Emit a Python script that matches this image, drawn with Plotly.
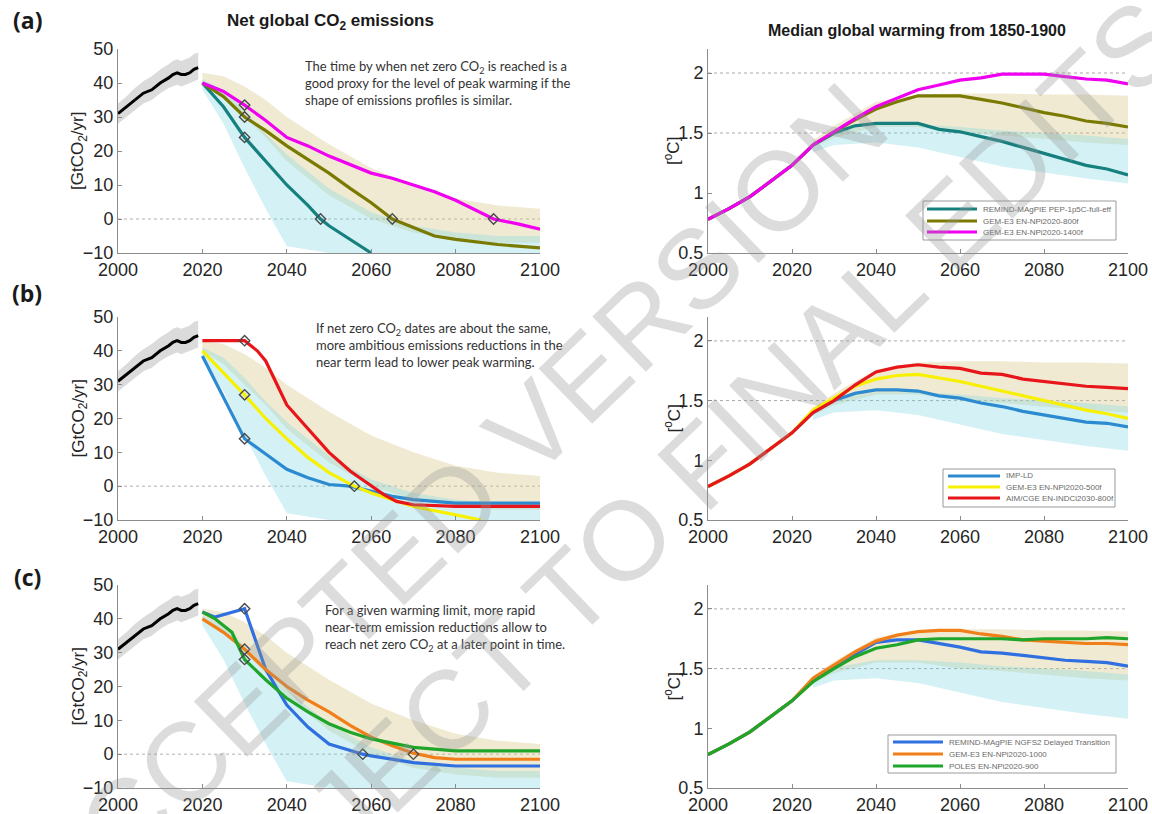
import plotly.graph_objects as go
from plotly.subplots import make_subplots

# ---------------- data ----------------
hist_years = [2000, 2002, 2004, 2006, 2008, 2010, 2012, 2013, 2014, 2015, 2016, 2017, 2018, 2019]
hist_co2 = [31, 33, 35, 37, 38, 40, 41.5, 42.5, 43, 42.5, 42.5, 43, 44, 44.5]
hist_lo = [28, 30, 32, 34, 35, 37, 38.5, 39, 39.5, 39, 39.5, 40, 40.5, 41]
hist_hi = [34, 36, 38.5, 40.5, 42, 44, 45.5, 46.5, 47, 46.5, 47, 47.5, 48.5, 49]

band_years = [2020, 2025, 2030, 2035, 2040, 2050, 2060, 2070, 2080, 2090, 2100]
tan_hi = [43, 42, 39, 35, 30, 22, 15, 10, 6, 4, 3]
tan_lo = [40, 36, 30, 24, 17, 7, 0, -4, -6, -7, -7]
cyan_hi = [41, 38, 32, 25, 19, 9, 2, -2, -4, -5, -5]
cyan_lo = [38, 28, 15, 3, -8, -10, -10, -10, -10, -10, -10]

tband_years = [2025, 2030, 2040, 2050, 2060, 2070, 2080, 2090, 2100]
t_tan_hi = [1.44, 1.56, 1.76, 1.82, 1.83, 1.83, 1.82, 1.82, 1.81]
t_tan_lo = [1.38, 1.46, 1.55, 1.55, 1.50, 1.48, 1.45, 1.42, 1.40]
t_cyan_hi = [1.42, 1.51, 1.57, 1.57, 1.55, 1.52, 1.50, 1.48, 1.45]
t_cyan_lo = [1.34, 1.40, 1.42, 1.38, 1.30, 1.22, 1.17, 1.12, 1.08]

# (a) emissions
a_teal_yr = [2020, 2025, 2030, 2035, 2040, 2045, 2048, 2050, 2055, 2060]
a_teal_co2 = [40, 33, 24, 17, 10, 4, 0, -2, -6, -10]
a_olive_yr = [2020, 2025, 2030, 2035, 2040, 2045, 2050, 2055, 2060, 2065, 2070, 2075, 2080, 2090, 2100]
a_olive_co2 = [40, 36, 30, 26, 21.5, 17.5, 13.5, 9, 4.8, 0, -2.5, -5, -6, -7.5, -8.5]
a_mag_yr = [2020, 2025, 2030, 2035, 2040, 2045, 2050, 2055, 2060, 2065, 2070, 2075, 2080, 2085, 2089, 2095, 2100]
a_mag_co2 = [40, 37.5, 33.5, 29, 24, 21.5, 18.5, 16, 13.5, 12, 10, 8, 5.5, 2.5, 0, -1.5, -3]

# (b) emissions
b_blue_yr = [2020, 2025, 2030, 2035, 2040, 2045, 2050, 2055, 2060, 2065, 2070, 2080, 2090, 2100]
b_blue_co2 = [38.5, 26, 14, 9.5, 5, 2.5, 0.5, 0, -1.5, -3, -4, -5, -5, -5]
b_yel_yr = [2020, 2025, 2030, 2035, 2040, 2045, 2050, 2056, 2060, 2065, 2070, 2080, 2086]
b_yel_co2 = [40, 33.5, 27, 20, 14, 8.5, 4, 0, -2, -4, -6, -8.5, -10]
b_red_yr = [2020, 2025, 2030, 2033, 2035, 2040, 2045, 2050, 2055, 2060, 2063, 2066, 2070, 2080, 2090, 2100]
b_red_co2 = [43, 43, 43, 40, 37, 24, 17, 10, 4.5, 0, -2.5, -4.5, -5.5, -6, -6, -6]

# (c) emissions
c_blue_yr = [2020, 2023, 2030, 2035, 2040, 2045, 2050, 2055, 2058, 2060, 2070, 2080, 2090, 2100]
c_blue_co2 = [42, 40.5, 43, 25, 14.5, 8, 3, 1, 0, -0.5, -2.5, -3.5, -3.5, -3.5]
c_orange_yr = [2020, 2025, 2030, 2035, 2040, 2045, 2050, 2055, 2060, 2065, 2070, 2075, 2080, 2090, 2100]
c_orange_co2 = [40, 36, 31, 25, 20, 16, 12.5, 8.5, 5, 2.5, 0.3, -1, -1.5, -1.5, -1.5]
c_green_yr = [2020, 2023, 2027, 2030, 2035, 2040, 2045, 2050, 2055, 2060, 2070, 2080, 2090, 2100]
c_green_co2 = [42, 40, 36, 28, 22, 16.5, 12.5, 9, 6.5, 4.5, 2, 1, 1, 1]

# markers (2030 and net-zero year)
a_teal_mk = ([2030, 2048], [24, 0])
a_olive_mk = ([2030, 2065], [30, 0])
a_mag_mk = ([2030, 2089], [33.5, 0])
b_blue_mk = ([2030], [14])
b_yel_mk = ([2030, 2056], [27, 0])
b_red_mk = ([2030], [43])
c_blue_mk = ([2030, 2058], [43, 0])
c_orange_mk = ([2030, 2070], [31, 0])
c_green_mk = ([2030], [28])

# temperatures
t_years = list(range(2000, 2101, 5))
a_teal_T = [0.78, 0.87, 0.97, 1.10, 1.23, 1.40, 1.50, 1.56, 1.58, 1.58, 1.58, 1.53, 1.51, 1.47, 1.43, 1.38, 1.33, 1.28, 1.23, 1.20, 1.15]
a_olive_T = [0.78, 0.87, 0.97, 1.10, 1.23, 1.40, 1.51, 1.61, 1.70, 1.76, 1.81, 1.81, 1.81, 1.78, 1.75, 1.71, 1.67, 1.64, 1.60, 1.58, 1.55]
a_mag_T = [0.78, 0.87, 0.97, 1.10, 1.23, 1.40, 1.51, 1.62, 1.72, 1.79, 1.86, 1.90, 1.94, 1.96, 1.99, 1.99, 1.99, 1.97, 1.95, 1.94, 1.91]
b_blue_T = [0.78, 0.87, 0.97, 1.10, 1.23, 1.40, 1.50, 1.56, 1.59, 1.59, 1.58, 1.54, 1.52, 1.48, 1.45, 1.41, 1.38, 1.35, 1.32, 1.31, 1.28]
b_yel_T = [0.78, 0.87, 0.97, 1.10, 1.23, 1.42, 1.52, 1.62, 1.68, 1.71, 1.72, 1.69, 1.66, 1.62, 1.58, 1.54, 1.50, 1.46, 1.42, 1.39, 1.35]
b_red_T = [0.78, 0.87, 0.97, 1.10, 1.23, 1.40, 1.50, 1.63, 1.74, 1.78, 1.80, 1.78, 1.77, 1.73, 1.72, 1.68, 1.66, 1.64, 1.62, 1.61, 1.60]
c_blue_T = [0.78, 0.87, 0.97, 1.10, 1.23, 1.40, 1.51, 1.62, 1.72, 1.74, 1.74, 1.71, 1.68, 1.64, 1.63, 1.61, 1.59, 1.57, 1.56, 1.55, 1.52]
c_orange_T = [0.78, 0.87, 0.97, 1.10, 1.23, 1.42, 1.53, 1.64, 1.73, 1.78, 1.81, 1.82, 1.82, 1.79, 1.77, 1.74, 1.73, 1.72, 1.71, 1.71, 1.70]
c_green_T = [0.78, 0.87, 0.97, 1.10, 1.23, 1.39, 1.50, 1.60, 1.67, 1.70, 1.74, 1.75, 1.75, 1.75, 1.75, 1.74, 1.75, 1.75, 1.75, 1.76, 1.75]

legend_a = ["REMIND-MAgPIE PEP-1p5C-full-eff", "GEM-E3 EN-NPi2020-800f", "GEM-E3 EN-NPi2020-1400f"]
legend_b = ["IMP-LD", "GEM-E3 EN-NPi2020-500f", "AIM/CGE EN-INDCi2030-800f"]
legend_c = ["REMIND-MAgPIE NGFS2 Delayed Transition", "GEM-E3 EN-NPi2020-1000", "POLES EN-NPi2020-900"]

x_ticks = [2000, 2020, 2040, 2060, 2080, 2100]
co2_ticks = [-10, 0, 10, 20, 30, 40, 50]
t_ticks = [0.5, 1, 1.5, 2]

C_TEAL = "#16807f"
C_OLIVE = "#7a7a00"
C_MAG = "#f000f0"
C_BLUE_B = "#2b8ad0"
C_YEL = "#f7f000"
C_RED = "#e8161b"
C_BLUE_C = "#2f6fe0"
C_ORANGE = "#f07f1a"
C_GREEN = "#1fa52a"
FILL_TAN = "rgba(214,198,130,0.36)"
FILL_CYAN = "rgba(120,214,226,0.32)"

W, H = 1152, 814
fig = make_subplots(rows=3, cols=2)

x_left = [118 / W, 540 / W]
x_right = [708 / W, 1128 / W]
rows_px = [(49, 253), (317, 520), (585, 788)]
FONT = "Liberation Sans, Arial, sans-serif"


def band(row, col, xs, hi, lo, color):
    fig.add_trace(go.Scatter(x=xs + xs[::-1], y=hi + lo[::-1], fill="toself",
                             fillcolor=color, line=dict(width=0), mode="lines",
                             hoverinfo="skip", showlegend=False), row=row, col=col)


def line(row, col, xs, ys, color, name="", width=3.2):
    fig.add_trace(go.Scatter(x=xs, y=ys, mode="lines", line=dict(color=color, width=width),
                             name=name, showlegend=False), row=row, col=col)


def markers(row, col, mk):
    fig.add_trace(go.Scatter(x=mk[0], y=mk[1], mode="markers",
                             marker=dict(symbol="diamond-open", size=8,
                                         line=dict(width=1.4), color="#4a4a4a"),
                             showlegend=False), row=row, col=col)


for r in (1, 2, 3):
    band(r, 1, hist_years, hist_hi, hist_lo, "rgba(195,195,195,0.6)")
    line(r, 1, hist_years, hist_co2, "black", width=3)
    band(r, 1, band_years, tan_hi, tan_lo, FILL_TAN)
    band(r, 1, band_years, cyan_hi, cyan_lo, FILL_CYAN)
    band(r, 2, tband_years, t_tan_hi, t_tan_lo, FILL_TAN)
    band(r, 2, tband_years, t_cyan_hi, t_cyan_lo, FILL_CYAN)

# row a
line(1, 1, a_teal_yr, a_teal_co2, C_TEAL)
line(1, 1, a_olive_yr, a_olive_co2, C_OLIVE)
line(1, 1, a_mag_yr, a_mag_co2, C_MAG)
for mk in (a_teal_mk, a_olive_mk, a_mag_mk):
    markers(1, 1, mk)
line(1, 2, t_years, a_teal_T, C_TEAL, legend_a[0])
line(1, 2, t_years, a_olive_T, C_OLIVE, legend_a[1])
line(1, 2, t_years, a_mag_T, C_MAG, legend_a[2])

# row b
line(2, 1, b_blue_yr, b_blue_co2, C_BLUE_B)
line(2, 1, b_yel_yr, b_yel_co2, C_YEL)
line(2, 1, b_red_yr, b_red_co2, C_RED)
for mk in (b_blue_mk, b_yel_mk, b_red_mk):
    markers(2, 1, mk)
line(2, 2, t_years, b_blue_T, C_BLUE_B, legend_b[0])
line(2, 2, t_years, b_yel_T, C_YEL, legend_b[1])
line(2, 2, t_years, b_red_T, C_RED, legend_b[2])

# row c
line(3, 1, c_blue_yr, c_blue_co2, C_BLUE_C)
line(3, 1, c_orange_yr, c_orange_co2, C_ORANGE)
line(3, 1, c_green_yr, c_green_co2, C_GREEN)
for mk in (c_blue_mk, c_orange_mk, c_green_mk):
    markers(3, 1, mk)
line(3, 2, t_years, c_blue_T, C_BLUE_C, legend_c[0])
line(3, 2, t_years, c_orange_T, C_ORANGE, legend_c[1])
line(3, 2, t_years, c_green_T, C_GREEN, legend_c[2])

axis_common = dict(showline=True, linecolor="#8c8c8c", linewidth=1, ticks="inside",
                   ticklen=4, tickcolor="#8c8c8c", showgrid=False, zeroline=False,
                   automargin=False,
                   tickfont=dict(family=FONT, size=18, color="#262626"), mirror=False)

for i in range(6):
    r = i // 2
    c = i % 2
    xa = "xaxis" if i == 0 else f"xaxis{i + 1}"
    ya = "yaxis" if i == 0 else f"yaxis{i + 1}"
    top, bot = rows_px[r]
    fig.layout[xa].update(domain=x_left if c == 0 else x_right, range=[2000, 2100],
                          tickvals=x_ticks, **axis_common)
    ydom = [1 - bot / H, 1 - top / H]
    if c == 0:
        fig.layout[ya].update(domain=ydom, range=[-10, 50], tickvals=co2_ticks, **axis_common)
    else:
        fig.layout[ya].update(domain=ydom, range=[0.5, 2.2], tickvals=t_ticks,
                              ticktext=["0.5", "1", "1.5", "2"], **axis_common)

# reference lines
for i in range(6):
    xr = "x" if i == 0 else f"x{i + 1}"
    yr = "y" if i == 0 else f"y{i + 1}"
    if i % 2 == 0:
        fig.add_shape(type="line", xref=xr, yref=yr, x0=2000, x1=2100, y0=0, y1=0,
                      line=dict(color="#b0b0b0", width=1, dash="dot"), layer="below")
    else:
        for v in (1.5, 2.0):
            fig.add_shape(type="line", xref=xr, yref=yr, x0=2000, x1=2100, y0=v, y1=v,
                          line=dict(color="#a8a8a8", width=1, dash="dot"), layer="below")

# custom compact legends (box, sample lines, labels)
legend_specs = [
    (legend_a, [C_TEAL, C_OLIVE, C_MAG], (923, 201, 1116, 240), (927, 977), [209, 221, 232]),
    (legend_b, [C_BLUE_B, C_YEL, C_RED], (943, 469, 1115, 507), (948, 1000), [476, 487, 498]),
    (legend_c, [C_BLUE_C, C_ORANGE, C_GREEN], (888, 735, 1116, 773), (893, 943), [742, 754, 766]),
]
ann = []
for names, cols, box, lx, ys in legend_specs:
    x0, y0, x1, y1 = box
    fig.add_shape(type="rect", xref="paper", yref="paper", x0=x0 / W, x1=x1 / W,
                  y0=1 - y1 / H, y1=1 - y0 / H, fillcolor="white",
                  line=dict(color="#9a9a9a", width=1))
    for nm, col, yy in zip(names, cols, ys):
        fig.add_shape(type="line", xref="paper", yref="paper", x0=lx[0] / W, x1=lx[1] / W,
                      y0=1 - yy / H, y1=1 - yy / H, line=dict(color=col, width=3.2))
        ann.append(dict(text=nm, x=(lx[1] + 4) / W, y=1 - yy / H, xanchor="left",
                        font=dict(family=FONT, size=8, color="#6a6a6a")))

# axis titles
ytitle_font = dict(family=FONT, size=17, color="#262626")
for top, bot in rows_px:
    ann.append(dict(text="[GtCO<sub>2</sub>/yr]", x=79 / W, y=1 - (top + bot) / 2 / H,
                    textangle=-90, font=ytitle_font))
    ann.append(dict(text="[<sup>o</sup>C]", x=672 / W, y=1 - (top + bot) / 2 / H,
                    textangle=-90, font=ytitle_font))

ann.append(dict(text="<b>Net global CO<sub>2</sub> emissions</b>", x=330 / W, y=1 - 22 / H,
                font=dict(family=FONT, size=17, color="#1a1a1a")))
ann.append(dict(text="<b>Median global warming from 1850-1900</b>", x=917 / W, y=1 - 30 / H,
                font=dict(family=FONT, size=16, color="#1a1a1a")))
for lab, yy in (("(a)", 20), ("(b)", 293), ("(c)", 577)):
    ann.append(dict(text="<b>" + lab + "</b>", x=27 / W, y=1 - yy / H,
                    font=dict(family="Open Sans, sans-serif", size=23, color="#1a1a1a")))
note_font = dict(family="Lato, Open Sans, sans-serif", size=13, color="#333333")
ann.append(dict(text="The time by when net zero CO<sub>2</sub> is reached is a<br>"
                     "good proxy for the level of peak warming if the<br>"
                     "shape of emissions profiles is similar.",
                x=303 / W, y=1 - 83 / H, xanchor="left", align="left", font=note_font))
ann.append(dict(text="If net zero CO<sub>2</sub> dates are about the same,<br>"
                     "more ambitious emissions reductions in the<br>"
                     "near term lead to lower peak warming.",
                x=314 / W, y=1 - 345 / H, xanchor="left", align="left", font=note_font))
ann.append(dict(text="For a given warming limit, more rapid<br>"
                     "near-term emission reductions allow to<br>"
                     "reach net zero CO<sub>2</sub> at a later point in time.",
                x=323 / W, y=1 - 628 / H, xanchor="left", align="left", font=note_font))
# watermark
wm_font = dict(family="Liberation Sans, Arial, sans-serif", size=112, color="rgba(150,150,150,0.33)")
ann.append(dict(text="ACCEPTED VERSION", x=455 / W, y=1 - 502 / H, textangle=-44,
                font=wm_font))
ann.append(dict(text="SUBJECT TO FINAL EDITS", x=660 / W, y=1 - 505 / H, textangle=-44,
                font=wm_font))
for a in ann:
    a.setdefault("xanchor", "center")
    a.update(xref="paper", yref="paper", showarrow=False, yanchor="middle")
    fig.add_annotation(**a)

fig.update_layout(width=W, height=H, margin=dict(l=0, r=0, t=0, b=0),
                  plot_bgcolor="white", paper_bgcolor="white",
                  font=dict(family=FONT), showlegend=False)

fig.write_html("out.html", config={"displayModeBar": False},
               post_script="document.body.style.margin='0';document.body.style.padding='0';")
